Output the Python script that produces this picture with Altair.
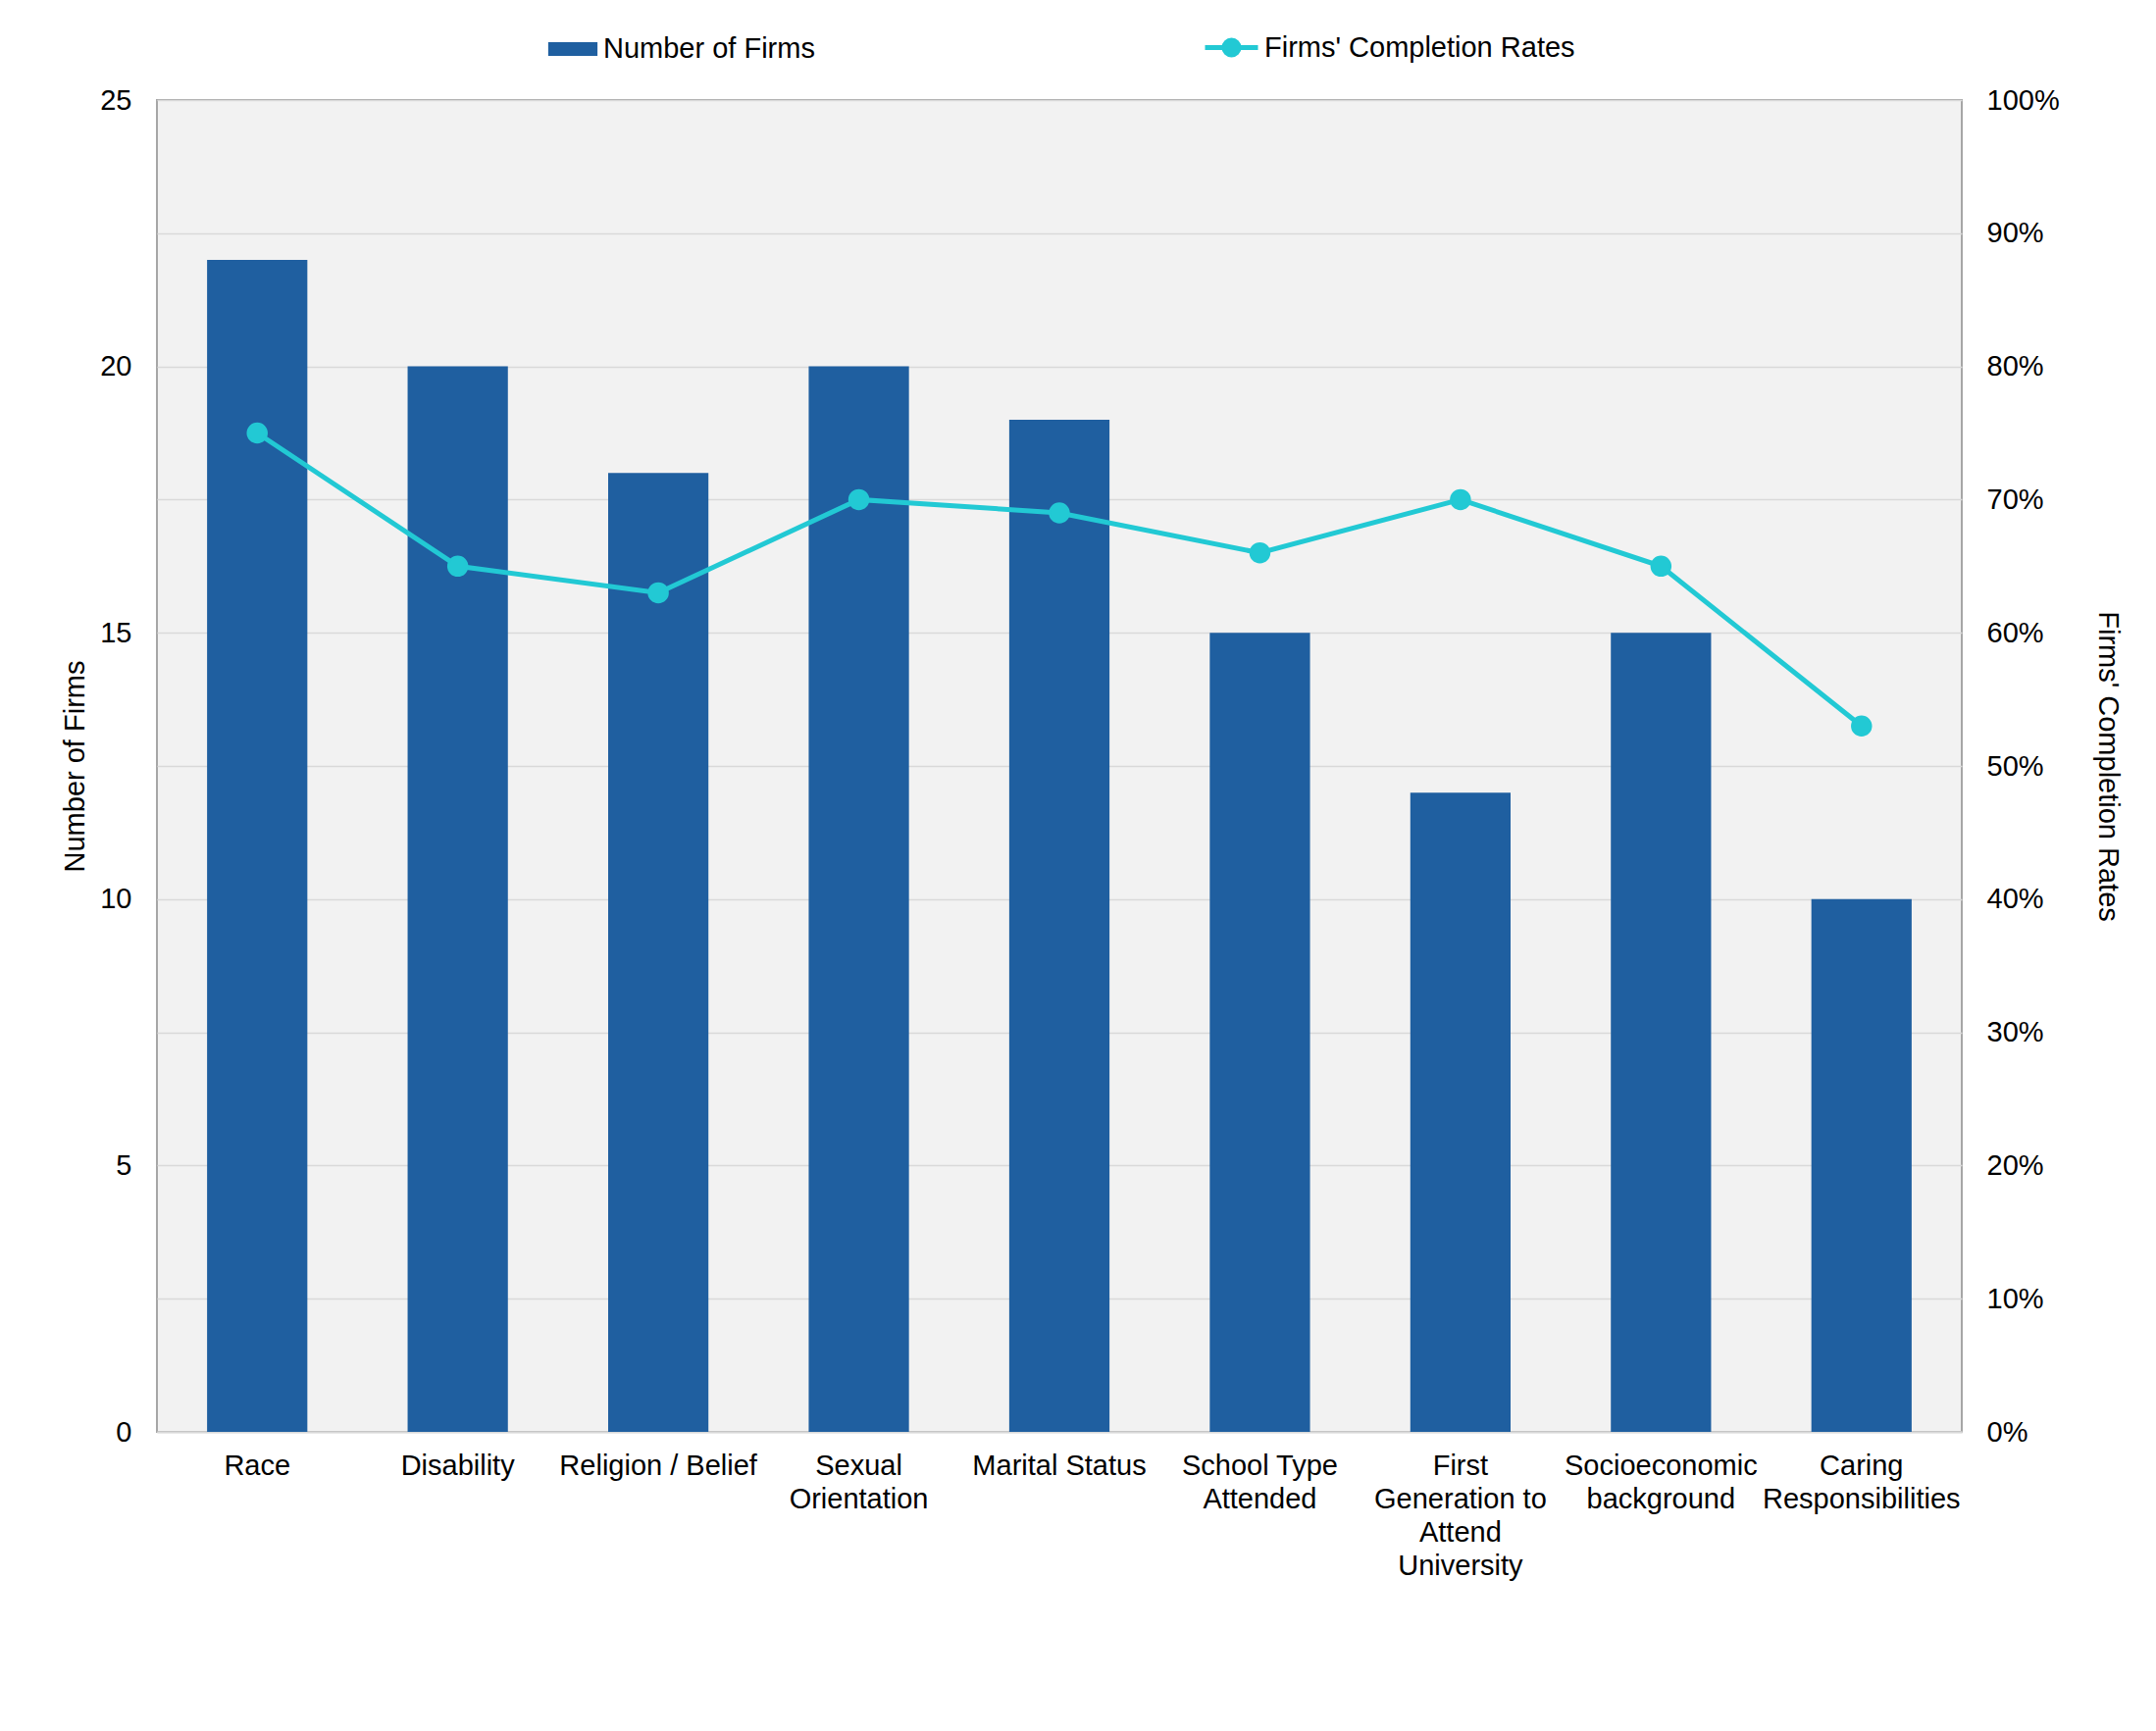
import altair as alt
import pandas as pd

# ---- data ----
categories = [
    "Race",
    "Disability",
    "Religion / Belief",
    "Sexual|Orientation",
    "Marital Status",
    "School Type|Attended",
    "First|Generation to|Attend|University",
    "Socioeconomic|background",
    "Caring|Responsibilities",
]
number_of_firms = [22, 20, 18, 20, 19, 15, 12, 15, 10]
completion_rates = [0.75, 0.65, 0.63, 0.70, 0.69, 0.66, 0.70, 0.65, 0.53]
bar_series = ["Number of Firms"]
line_series = ["Firms' Completion Rates"]
left_ticks = [0, 5, 10, 15, 20, 25]
right_ticks = [0, 0.1, 0.2, 0.3, 0.4, 0.5, 0.6, 0.7, 0.8, 0.9, 1.0]

BAR_COLOR = "#1F5FA0"
LINE_COLOR = "#22C9D4"
FONT = "Liberation Sans"
FS = 29

bars_df = pd.DataFrame({"category": categories, "value": number_of_firms,
                        "series": bar_series[0]})
line_df = pd.DataFrame({"category": categories, "rate": completion_rates,
                        "series": line_series[0]})

rect_path = "M-0.93,-0.26H0.93V0.26H-0.93Z"
# horizontal line plus two concentric rings that together read as a filled dot
line_path = ("M-1,0H1"
             "M-0.28,0A0.28,0.28,0,1,0,0.28,0A0.28,0.28,0,1,0,-0.28,0"
             "M-0.1,0A0.1,0.1,0,1,0,0.1,0A0.1,0.1,0,1,0,-0.1,0")

common_legend = dict(
    title=None,
    orient="none",
    direction="horizontal",
    padding=0,
    labelFont=FONT,
    labelFontSize=FS,
    labelColor="#000000",
    labelOffset=4,
    labelLimit=600,
    symbolSize=2916,
    symbolOpacity=1,
)

bar_legend = alt.Legend(legendX=397, legendY=-79, symbolType=rect_path,
                        symbolStrokeWidth=0, **common_legend)
line_legend = alt.Legend(legendX=1066, legendY=-83, symbolType=line_path,
                         symbolStrokeWidth=5, symbolFillColor=LINE_COLOR,
                         **common_legend)

x_enc = alt.X(
    "category:N",
    sort=None,
    title=None,
    scale=alt.Scale(paddingInner=0.5, paddingOuter=0.25),
    axis=alt.Axis(
        labelAngle=0,
        labelExpr="split(datum.label, '|')",
        labelFont=FONT,
        labelFontSize=FS,
        labelColor="#000000",
        labelPadding=20,
        labelLineHeight=34,
        labelBaseline="top",
        labelLimit=400,
        ticks=False,
        domainColor="#D9D9D9",
        domainWidth=2,
        grid=False,
    ),
)

bars = alt.Chart(bars_df).mark_bar().encode(
    x=x_enc,
    y=alt.Y(
        "value:Q",
        scale=alt.Scale(domain=[0, 25]),
        axis=alt.Axis(
            title="Number of Firms",
            values=left_ticks,
            grid=False,
            ticks=False,
            domain=False,
            labelFont=FONT,
            labelFontSize=FS,
            labelColor="#000000",
            labelPadding=26,
            titleFont=FONT,
            titleFontSize=FS,
            titleFontWeight="normal",
            titleColor="#000000",
            titlePadding=10,
        ),
    ),
    fill=alt.Fill("series:N", scale=alt.Scale(domain=bar_series, range=[BAR_COLOR]),
                  legend=bar_legend),
)

line = alt.Chart(line_df).mark_line(
    strokeWidth=5,
    point=alt.OverlayMarkDef(size=380, filled=True, fill=LINE_COLOR, opacity=1),
).encode(
    x=alt.X("category:N", sort=None),
    y=alt.Y(
        "rate:Q",
        scale=alt.Scale(domain=[0, 1]),
        axis=alt.Axis(
            title="Firms' Completion Rates",
            orient="right",
            format=".0%",
            values=right_ticks,
            grid=True,
            gridColor="#D9D9D9",
            gridWidth=1.5,
            ticks=False,
            domain=False,
            labelFont=FONT,
            labelFontSize=FS,
            labelColor="#000000",
            labelPadding=25,
            titleFont=FONT,
            titleFontSize=FS,
            titleFontWeight="normal",
            titleColor="#000000",
            titlePadding=34,
        ),
    ),
    stroke=alt.Stroke("series:N", scale=alt.Scale(domain=line_series, range=[LINE_COLOR]),
                      legend=line_legend),
)

chart = (
    alt.layer(bars, line)
    .resolve_scale(y="independent")
    .properties(
        width=1840,
        height=1358,
        autosize=alt.AutoSizeParams(type="none"),
        padding={"left": 152, "top": 94, "right": 190, "bottom": 297},
        background="#FFFFFF",
    )
    .configure_view(fill="#F2F2F2", stroke="#A6A6A6", strokeWidth=2)
)

chart.save("out.html", embed_options={"renderer": "svg", "actions": False})
